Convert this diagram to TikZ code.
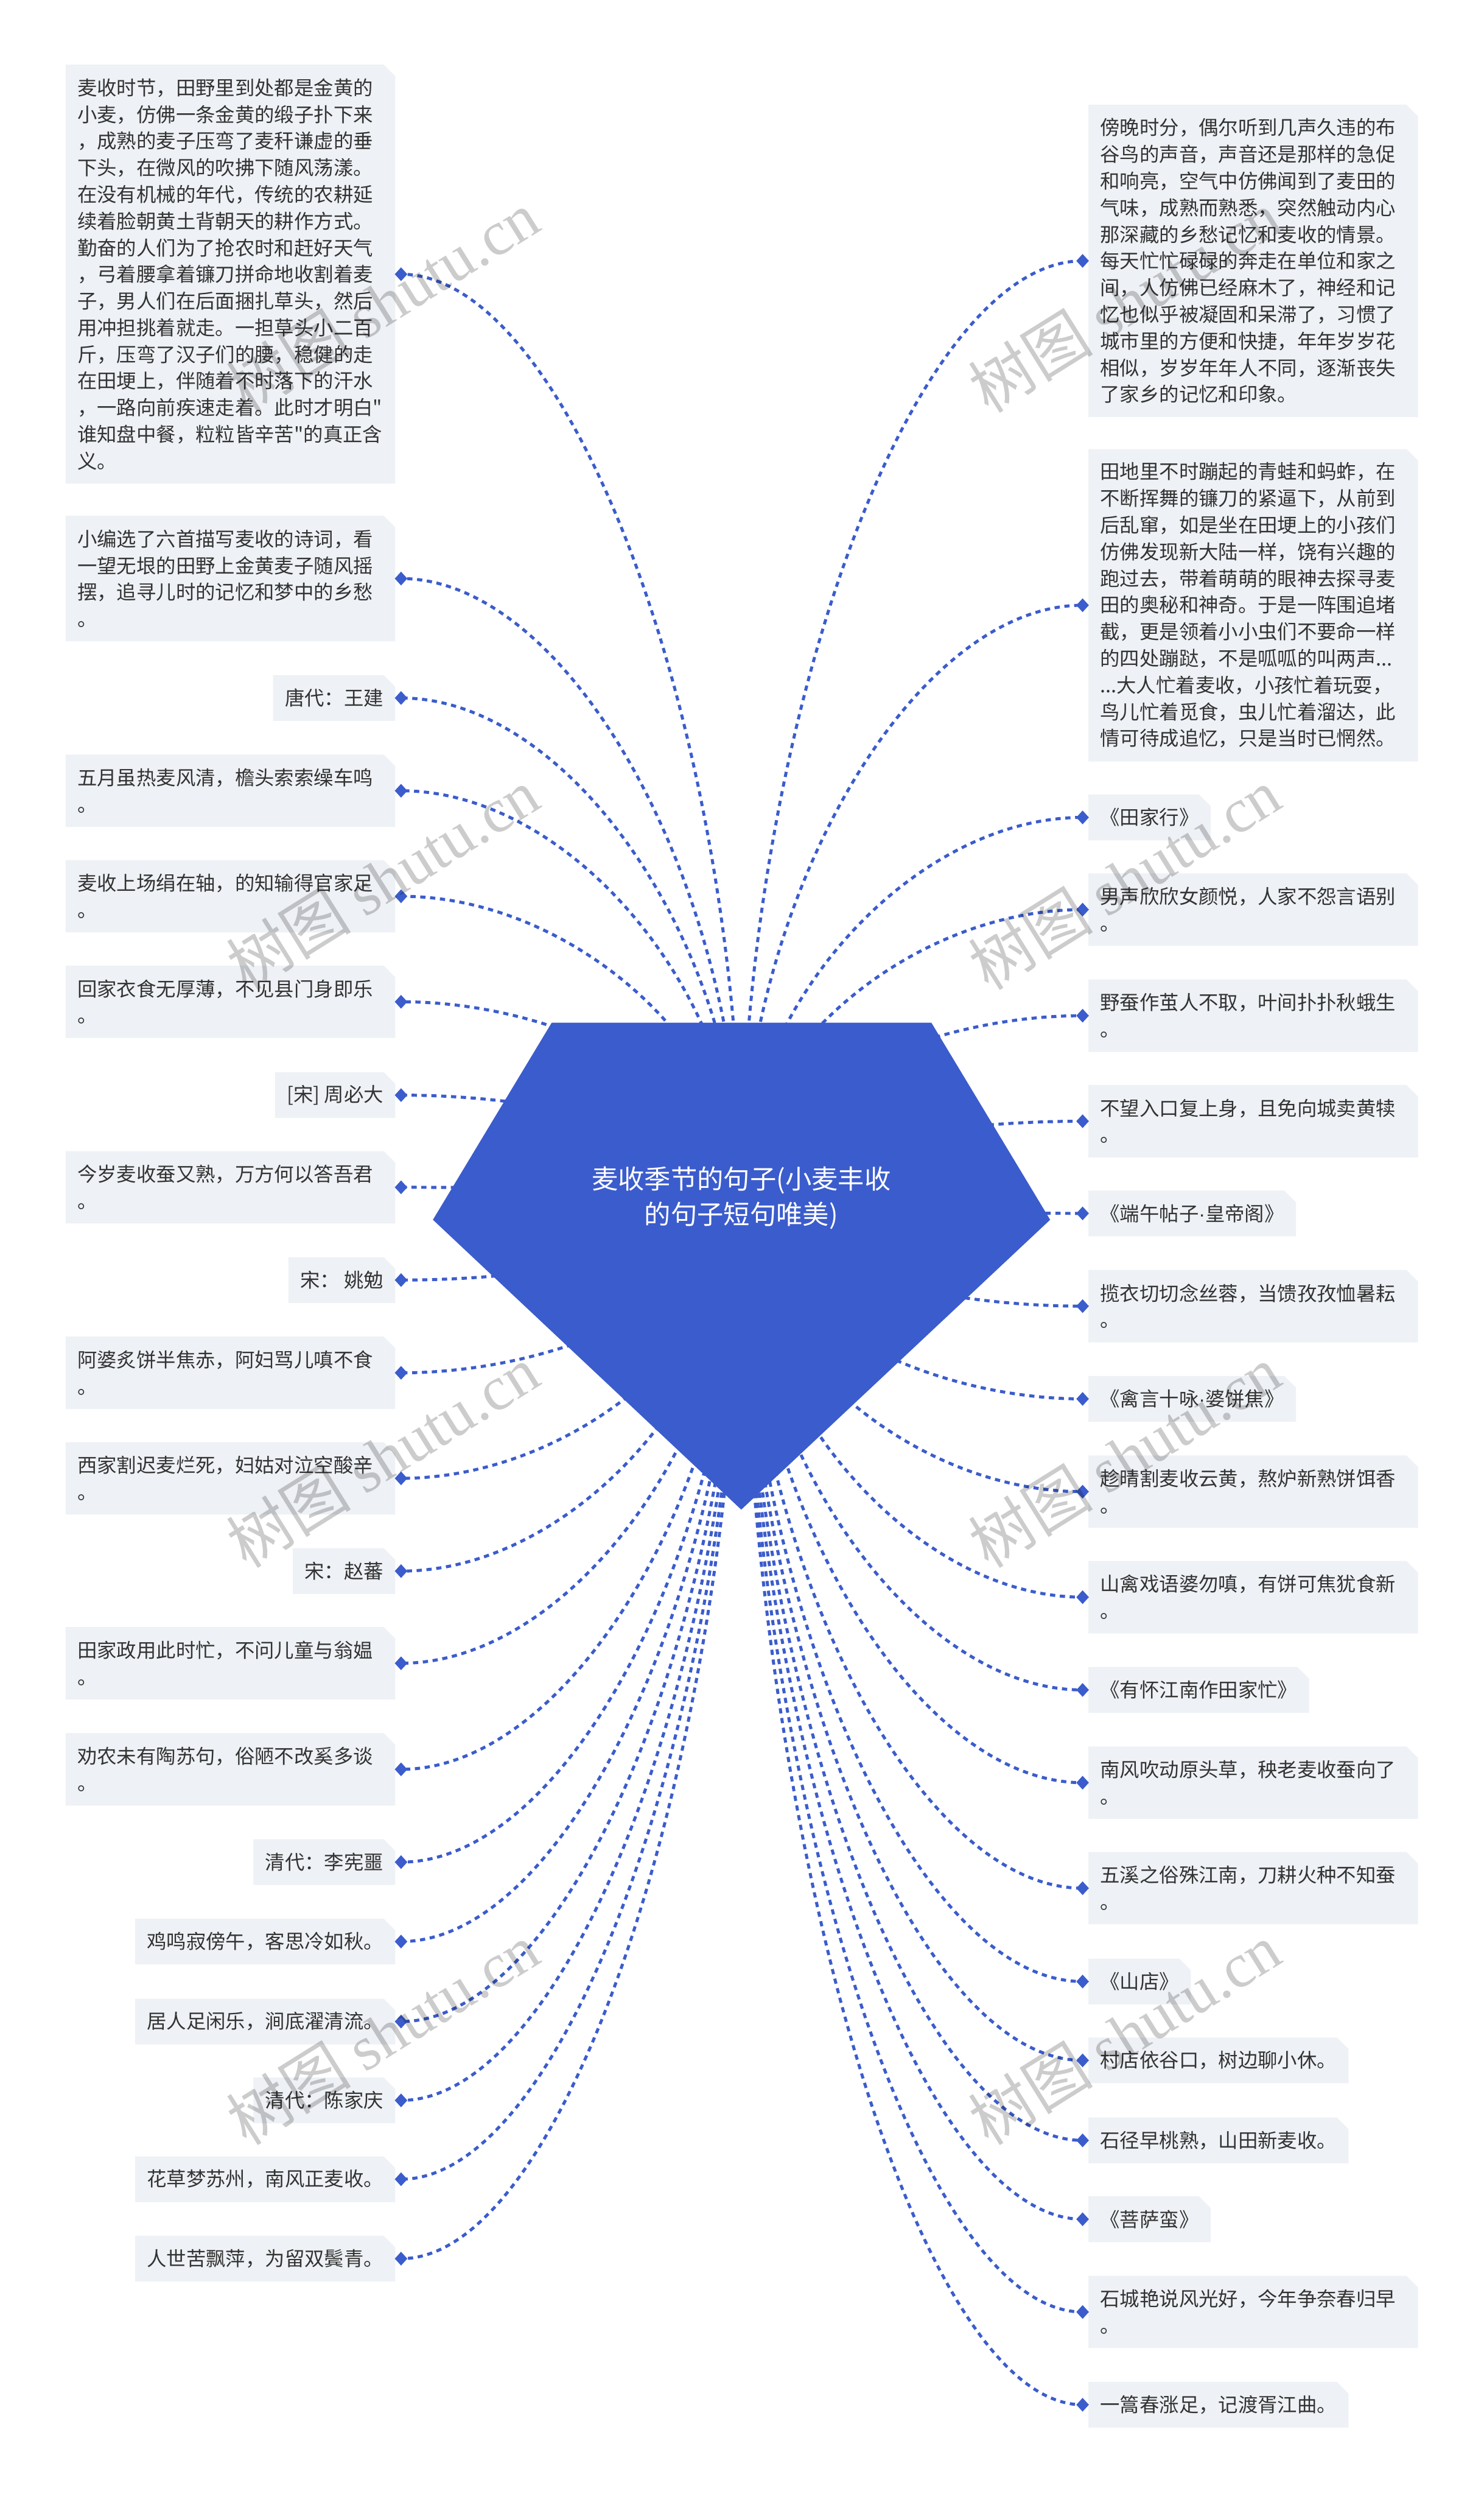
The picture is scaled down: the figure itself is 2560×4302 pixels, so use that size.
\documentclass[tikz,border=0pt]{standalone}
\usepackage{fontspec}
\newfontfamily\cjkf{Noto Sans CJK SC}
\newfontfamily\wmlatin{Liberation Serif}
\newfontfamily\latinf{Liberation Sans}
\usetikzlibrary{shapes.geometric,calc}
\definecolor{mainblue}{HTML}{3B5CCC}
\definecolor{boxbg}{HTML}{EEF1F5}
\definecolor{txtc}{HTML}{333333}
\pgfdeclarelayer{base}
\pgfdeclarelayer{bg}
\pgfdeclarelayer{lines}
\pgfdeclarelayer{shape}
\pgfdeclarelayer{wm}
\pgfsetlayers{base,bg,lines,shape,main,wm}
\tikzset{
  leaf/.style={text=txtc, font=\cjkf\fontsize{17pt}{23pt}\selectfont, inner xsep=10pt, inner ysep=0pt, align=left},
  nl/.style={minimum height={#1*23pt+16pt}},
  wide/.style={text width=264pt},
  lft/.style={leaf, anchor=east},
  rgt/.style={leaf, anchor=west},
  dmark/.style={diamond, fill=mainblue, inner sep=0pt, minimum width=11pt, minimum height=12pt},
  conn/.style={draw=mainblue, line width=2.6pt, dash pattern=on 4.5pt off 4pt},
  wmark/.style={text=black, text opacity=0.2, font=\cjkf\fontsize{54pt}{54pt}\selectfont, rotate=32},
}
\begin{document}
\begin{tikzpicture}[x=0.5pt,y=-0.5pt]
\begin{pgfonlayer}{base}
\fill[white] (0,0) rectangle (2560,4302);
\end{pgfonlayer}
\useasboundingbox (0,0) rectangle (2560,4302);

% central topic
\begin{pgfonlayer}{shape}
\fill[mainblue] (952,1764) -- (1607,1764) -- (1812,2104) -- (1279,2604) -- (747,2104) -- cycle;
\end{pgfonlayer}
\node[text=white, font=\cjkf\fontsize{22.75pt}{30.5pt}\selectfont, align=center] (root) at (1279,2066) {麦收季节的句子(小麦丰收\\的句子短句唯美)};

% left column
\node[lft, wide, nl=15] (L1) at (682,473) {麦收时节，田野里到处都是金黄的\\小麦，仿佛一条金黄的缎子扑下来\\，成熟的麦子压弯了麦秆谦虚的垂\\下头，在微风的吹拂下随风荡漾。\\在没有机械的年代，传统的农耕延\\续着脸朝黄土背朝天的耕作方式。\\勤奋的人们为了抢农时和赶好天气\\，弓着腰拿着镰刀拼命地收割着麦\\子，男人们在后面捆扎草头，然后\\用冲担挑着就走。一担草头小二百\\斤，压弯了汉子们的腰，稳健的走\\在田埂上，伴随着不时落下的汗水\\，一路向前疾速走着。此时才明白"\\谁知盘中餐，粒粒皆辛苦"的真正含\\义。};
\node[lft, wide, nl=4] (L2) at (682,998) {小编选了六首描写麦收的诗词，看\\一望无垠的田野上金黄麦子随风摇\\摆，追寻儿时的记忆和梦中的乡愁\\。};
\node[lft, nl=1] (L3) at (682,1204) {唐代：王建};
\node[lft, wide, nl=2] (L4) at (682,1364) {五月虽热麦风清，檐头索索缲车鸣\\。};
\node[lft, wide, nl=2] (L5) at (682,1546) {麦收上场绢在轴，的知输得官家足\\。};
\node[lft, wide, nl=2] (L6) at (682,1728) {回家衣食无厚薄，不见县门身即乐\\。};
\node[lft, nl=1] (L7) at (682,1889) {[宋] 周必大};
\node[lft, wide, nl=2] (L8) at (682,2048) {今岁麦收蚕又熟，万方何以答吾君\\。};
\node[lft, nl=1] (L9) at (682,2208) {宋： 姚勉};
\node[lft, wide, nl=2] (L10) at (682,2368) {阿婆炙饼半焦赤，阿妇骂儿嗔不食\\。};
\node[lft, wide, nl=2] (L11) at (682,2550) {西家割迟麦烂死，妇姑对泣空酸辛\\。};
\node[lft, nl=1] (L12) at (682,2710) {宋：赵蕃};
\node[lft, wide, nl=2] (L13) at (682,2869) {田家政用此时忙，不问儿童与翁媪\\。};
\node[lft, wide, nl=2] (L14) at (682,3052) {劝农未有陶苏句，俗陋不改奚多谈\\。};
\node[lft, nl=1] (L15) at (682,3212) {清代：李宪噩};
\node[lft, nl=1] (L16) at (682,3349) {鸡鸣寂傍午，客思冷如秋。};
\node[lft, nl=1] (L17) at (682,3487) {居人足闲乐，涧底濯清流。};
\node[lft, nl=1] (L18) at (682,3623) {清代：陈家庆};
\node[lft, nl=1] (L19) at (682,3759) {花草梦苏州，南风正麦收。};
\node[lft, nl=1] (L20) at (682,3896) {人世苦飘萍，为留双鬓青。};

% right column
\node[rgt, wide, nl=11] (R1) at (1878,450) {傍晚时分，偶尔听到几声久违的布\\谷鸟的声音，声音还是那样的急促\\和响亮，空气中仿佛闻到了麦田的\\气味，成熟而熟悉，突然触动内心\\那深藏的乡愁记忆和麦收的情景。\\每天忙忙碌碌的奔走在单位和家之\\间，人仿佛已经麻木了，神经和记\\忆也似乎被凝固和呆滞了，习惯了\\城市里的方便和快捷，年年岁岁花\\相似，岁岁年年人不同，逐渐丧失\\了家乡的记忆和印象。};
\node[rgt, wide, nl=11] (R2) at (1878,1044) {田地里不时蹦起的青蛙和蚂蚱，在\\不断挥舞的镰刀的紧逼下，从前到\\后乱窜，如是坐在田埂上的小孩们\\仿佛发现新大陆一样，饶有兴趣的\\跑过去，带着萌萌的眼神去探寻麦\\田的奥秘和神奇。于是一阵围追堵\\截，更是领着小小虫们不要命一样\\的四处蹦跶，不是呱呱的叫两声...\\...大人忙着麦收，小孩忙着玩耍，\\鸟儿忙着觅食，虫儿忙着溜达，此\\情可待成追忆，只是当时已惘然。};
\node[rgt, nl=1] (R3) at (1878,1410) {《田家行》};
\node[rgt, wide, nl=2] (R4) at (1878,1569) {男声欣欣女颜悦，人家不怨言语别\\。};
\node[rgt, wide, nl=2] (R5) at (1878,1752) {野蚕作茧人不取，叶间扑扑秋蛾生\\。};
\node[rgt, wide, nl=2] (R6) at (1878,1934) {不望入口复上身，且免向城卖黄犊\\。};
\node[rgt, nl=1] (R7) at (1878,2093) {《端午帖子{\latinf ·}皇帝阁》};
\node[rgt, wide, nl=2] (R8) at (1878,2253) {揽衣切切念丝蓉，当馈孜孜恤暑耘\\。};
\node[rgt, nl=1] (R9) at (1878,2413) {《禽言十咏{\latinf ·}婆饼焦》};
\node[rgt, wide, nl=2] (R10) at (1878,2573) {趁晴割麦收云黄，熬炉新熟饼饵香\\。};
\node[rgt, wide, nl=2] (R11) at (1878,2755) {山禽戏语婆勿嗔，有饼可焦犹食新\\。};
\node[rgt, nl=1] (R12) at (1878,2915) {《有怀江南作田家忙》};
\node[rgt, wide, nl=2] (R13) at (1878,3075) {南风吹动原头草，秧老麦收蚕向了\\。};
\node[rgt, wide, nl=2] (R14) at (1878,3257) {五溪之俗殊江南，刀耕火种不知蚕\\。};
\node[rgt, nl=1] (R15) at (1878,3418) {《山店》};
\node[rgt, nl=1] (R16) at (1878,3554) {村店依谷口，树边聊小休。};
\node[rgt, nl=1] (R17) at (1878,3692) {石径早桃熟，山田新麦收。};
\node[rgt, nl=1] (R18) at (1878,3828) {《菩萨蛮》};
\node[rgt, wide, nl=2] (R19) at (1878,3988) {石城艳说风光好，今年争奈春归早\\。};
\node[rgt, nl=1] (R20) at (1878,4148) {一篙春涨足，记渡胥江曲。};

% markers, box fills, connectors
\foreach \i in {1,...,20}{
  \node[dmark] (mL\i) at ($(L\i.east)+(10,0)$) {};
  \node[dmark] (mR\i) at ($(R\i.west)+(-10,0)$) {};
  \begin{pgfonlayer}{bg}
    \fill[boxbg] (L\i.south west) -- (L\i.north west) -- ($(L\i.north east)+(-20,0)$) -- ($(L\i.north east)+(0,20)$) -- (L\i.south east) -- cycle;
    \fill[boxbg] (R\i.south west) -- (R\i.north west) -- ($(R\i.north east)+(-20,0)$) -- ($(R\i.north east)+(0,20)$) -- (R\i.south east) -- cycle;
  \end{pgfonlayer}
  \begin{pgfonlayer}{lines}
    \draw[conn] (root.center) .. controls ($(root.center)!0.5!(root.center |- mL\i.center)$) and ($(mL\i.center)!0.5!(root.center |- mL\i.center)$) .. (mL\i.center);
    \draw[conn] (root.center) .. controls ($(root.center)!0.5!(root.center |- mR\i.center)$) and ($(mR\i.center)!0.5!(root.center |- mR\i.center)$) .. (mR\i.center);
  \end{pgfonlayer}
}

% watermarks
\begin{pgfonlayer}{wm}
\foreach \x/\y [count=\k] in {660/520,1940/520,660/1516,1940/1516,660/2512,1940/2512,660/3508,1940/3508}{
  \node[wmark] (wm\k) at (\x,\y) {树图 {\wmlatin shutu.cn}};
}
\end{pgfonlayer}
\end{tikzpicture}
\end{document}
